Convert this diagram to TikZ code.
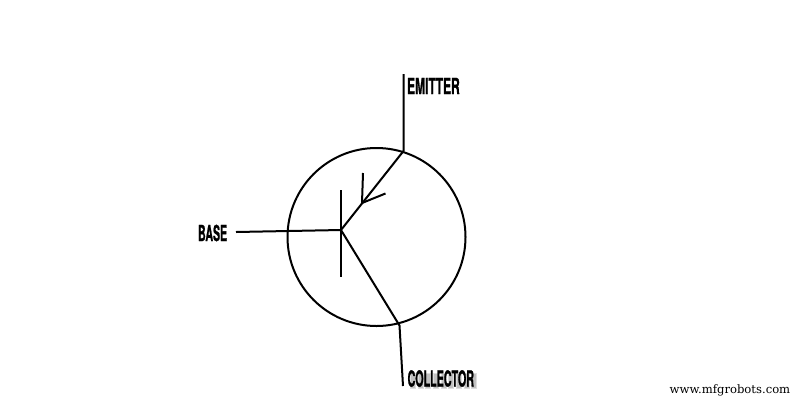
\documentclass[tikz,border=0pt]{standalone}
\usepackage{fontspec}
\setmainfont{TeX Gyre Heros}
\newfontfamily\lblfont[FakeBold=1.6]{TeX Gyre Heros Bold}
\newfontfamily\markfont{DejaVu Serif}
\tikzset{
  wire/.style={line width=2pt,black},
  lbl/.style={inner sep=0pt,anchor=west,font=\lblfont\fontsize{22}{22}\selectfont,transform shape},
  glow/.style={fill=black,opacity=0.13}
}
\begin{document}
\begin{tikzpicture}[x=1pt,y=-1pt]
\useasboundingbox[fill=white] (0,0) rectangle (800,400);
\node[circle,draw,line width=2pt,minimum size=178pt,inner sep=0pt] (body) at (376.5,237) {};
\coordinate (eTop) at (403.5,74);
\coordinate (eJoin) at (403.5,151);
\coordinate (center) at (341,230);
\coordinate (arrowTip) at (362,203);
\coordinate (arrowA) at (363,173);
\coordinate (arrowB) at (385.5,193.5);
\coordinate (barTop) at (341,190);
\coordinate (barBot) at (341,277);
\coordinate (bLeft) at (236,232);
\coordinate (cJoin) at (399.5,325.5);
\coordinate (cBot) at (403,386);
\draw[wire] (eTop) -- (eJoin) -- (center) -- (cJoin) -- (cBot);
\draw[wire] (arrowA) -- (arrowTip) -- (arrowB);
\draw[wire] (barTop) -- (barBot);
\draw[wire] (bLeft) -- (center);
\node[lbl,xscale=0.545] (emitter) at (407,86) {EMITTER};
\node[lbl,xscale=0.48] (base) at (198,233) {BASE};
\foreach \i in {0,...,8}{
  \fill[glow] (410+\i*7.67,373) rectangle (416+\i*7.67,389);
  \fill[glow] (411+\i*7.67,374) rectangle (415+\i*7.67,388);
}
\node[lbl,xscale=0.487] (collector) at (407.5,378.5) {COLLECTOR};
\node[inner sep=0pt,anchor=west,font=\markfont\fontsize{11.6}{11.6}\selectfont] (mark) at (669.5,390.5) {www.mfgrobots.com};
\end{tikzpicture}
\end{document}
